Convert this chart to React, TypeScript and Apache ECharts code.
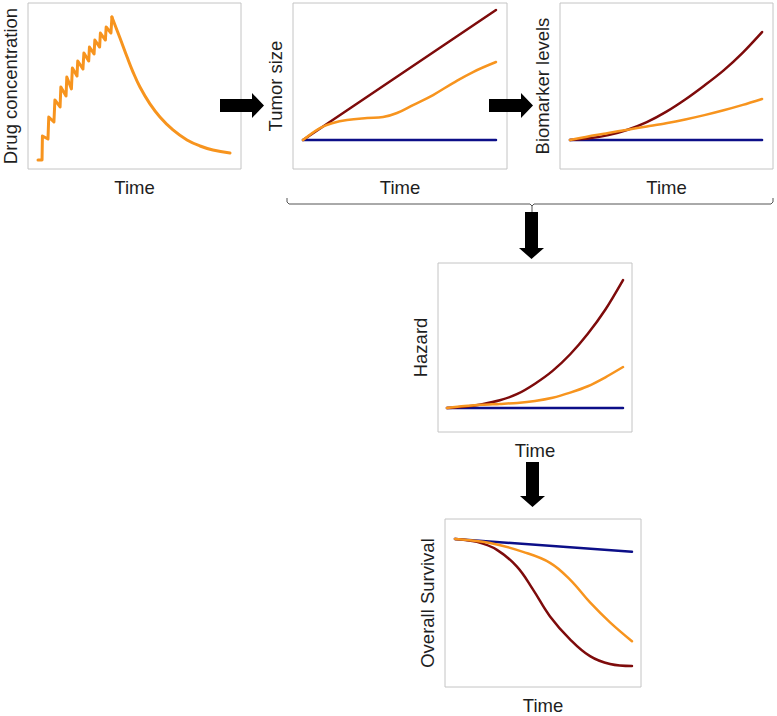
import React, { useEffect, useRef } from "react";
import * as echarts from "echarts";

const RED = "#7e0b0b";
const ORANGE = "#f7941e";
const BLUE = "#0c0f88";

// Panel 1: drug concentration (dosing phase + elimination phase)
const drugDoseTime = [0, 2.1, 2.3, 5.2, 5.6, 8.3, 8.8, 11.5, 11.9, 14.6, 15.0, 17.4, 17.9, 20.3, 20.7, 23.4, 23.9, 26.4, 26.8, 29.2, 29.6, 32.1, 32.5, 35.1, 35.5, 38.0, 38.5];
const drugDoseConc = [0, 0, 16.8, 14.7, 30.1, 26.6, 42.0, 37.1, 51.0, 44.8, 58.0, 49.7, 64.3, 58.7, 69.2, 63.6, 74.8, 69.2, 79.0, 74.1, 83.9, 79.0, 88.8, 83.9, 93.0, 88.8, 100];
const drugDecayTime = [38.5, 42.7, 46.4, 49.5, 53.1, 58.3, 63.5, 70.3, 77.6, 84.4, 91.1, 100];
const drugDecayConc = [100, 85.3, 72.0, 61.5, 51.0, 39.2, 30.1, 21.0, 14.0, 9.8, 7.0, 4.9];

// Panel 2: tumor size
const tumorLineTime = [0, 100];
const tumorRed = [0, 100];
const tumorBlue = [0, 0];
const tumorOrangeTime = [0, 8.8, 15.5, 22.8, 33.2, 41.5, 48.7, 57, 67.4, 77.7, 88.1, 100];
const tumorOrange = [0, 9.2, 13.1, 15.4, 16.9, 17.7, 20.8, 26.9, 34.6, 43.8, 52.3, 60];

// Panel 3: biomarker levels
const bioTime = [0, 10, 20, 30, 40, 50, 60, 70, 80, 90, 100];
const bioRed = [0, 1.5, 4.5, 9.5, 16.5, 26, 37.5, 50.5, 64.5, 81, 100];
const bioOrange = [0, 3.5, 6.5, 9.5, 12.5, 15.5, 19, 23, 27.5, 32.5, 38];
const bioBlue = [0, 0, 0, 0, 0, 0, 0, 0, 0, 0, 0];

// Panel 4: hazard
const hazTime = [0, 10, 20, 30, 40, 50, 60, 70, 80, 90, 100];
const hazRed = [0, 1, 3, 6, 11, 19, 29, 42, 58, 77, 100];
const hazOrange = [0, 1.5, 2.5, 3.2, 4, 5.5, 8, 12, 17, 24, 32];
const hazBlue = [0, 0, 0, 0, 0, 0, 0, 0, 0, 0, 0];

// Panel 5: overall survival (%)
const osRedTime = [0, 12.4, 23.7, 35, 44.1, 53.7, 65, 76.3, 87.6, 100];
const osRed = [100, 97.9, 92.4, 80.7, 64.8, 46.2, 30.3, 18.6, 13.1, 11.7];
const osOrangeTime = [0, 19.8, 38.4, 53.7, 65, 76.3, 87.6, 100];
const osOrange = [100, 97.2, 91, 83.4, 71.7, 55.9, 42.1, 29];
const osBlueTime = [0, 100];
const osBlue = [100, 91];

const zip = (a: number[], b: number[]) => a.map((v, i) => [v, b[i]]);

const FONT = { fontFamily: "Liberation Sans, Arial, sans-serif", fontSize: 18.5, color: "#1e1e1e" };

function rightArrow(x0: number, yc: number) {
  const L = 44, sh = 6.5, hh = 12.5, hl = 12;
  return {
    type: "polygon", z: 100,
    shape: { points: [[x0, yc - sh], [x0 + L - hl, yc - sh], [x0 + L - hl, yc - hh], [x0 + L, yc], [x0 + L - hl, yc + hh], [x0 + L - hl, yc + sh], [x0, yc + sh]] },
    style: { fill: "#000" },
  };
}
function downArrow(xc: number, y0: number, L: number) {
  const sh = 6.5, hh = 12.5, hl = 11;
  return {
    type: "polygon", z: 100,
    shape: { points: [[xc - sh, y0], [xc + sh, y0], [xc + sh, y0 + L - hl], [xc + hh, y0 + L - hl], [xc, y0 + L], [xc - hh, y0 + L - hl], [xc - sh, y0 + L - hl]] },
    style: { fill: "#000" },
  };
}

export default function App() {
  const ref = useRef<HTMLDivElement>(null);
  useEffect(() => {
    if (!ref.current) return;
    const chart = echarts.init(ref.current, null, { renderer: "svg" });
    const grids = [
      { left: 28, top: 3, width: 213, height: 166 },
      { left: 293, top: 3, width: 214, height: 166 },
      { left: 560, top: 3, width: 213, height: 166 },
      { left: 438, top: 263, width: 194, height: 169 },
      { left: 445, top: 519, width: 196, height: 169 },
    ].map((g) => ({ ...g, show: true, borderColor: "#c4c4c4", borderWidth: 1, backgroundColor: "#fff" }));

    const base = {
      type: "value",
      axisLine: { show: false },
      axisTick: { show: false },
      axisLabel: { show: false },
      splitLine: { show: false },
      nameLocation: "middle",
      nameTextStyle: FONT,
    };
    const xRanges = [[-5.21, 105.73], [-5.18, 105.7], [-5.2, 105.7], [-5.1, 105.1], [-5.65, 105.1]];
    const yRanges = [[-6.29, 109.79], [-22.3, 105.4], [-26.9, 126.9], [-18.75, 113.3], [-2.8, 113.8]];
    const yNames = ["Drug concentration", "Tumor size", "Biomarker levels", "Hazard", "Overall Survival"];

    const xAxis = xRanges.map((r, i) => ({ ...base, gridIndex: i, min: r[0], max: r[1], name: "Time", nameGap: 9 }));
    const yAxis = yRanges.map((r, i) => ({ ...base, gridIndex: i, min: r[0], max: r[1], name: yNames[i], nameRotate: 90, nameGap: 8 }));

    const line = (i: number, data: number[][], color: string, width: number, smooth: number | boolean) => ({
      type: "line", xAxisIndex: i, yAxisIndex: i, data, symbol: "none", smooth,
      lineStyle: { color, width, cap: "round", join: "round" }, silent: true,
    });

    const series = [
      line(0, zip(drugDoseTime, drugDoseConc), ORANGE, 3, false),
      line(0, zip(drugDecayTime, drugDecayConc), ORANGE, 3, 0.4),
      line(1, zip(tumorLineTime, tumorBlue), BLUE, 2.5, false),
      line(1, zip(tumorLineTime, tumorRed), RED, 2.5, false),
      line(1, zip(tumorOrangeTime, tumorOrange), ORANGE, 2.5, 0.4),
      line(2, zip(bioTime, bioBlue), BLUE, 2.5, false),
      line(2, zip(bioTime, bioRed), RED, 2.5, 0.3),
      line(2, zip(bioTime, bioOrange), ORANGE, 2.5, 0.3),
      line(3, zip(hazTime, hazBlue), BLUE, 2.5, false),
      line(3, zip(hazTime, hazRed), RED, 2.5, 0.3),
      line(3, zip(hazTime, hazOrange), ORANGE, 2.5, 0.3),
      line(4, zip(osBlueTime, osBlue), BLUE, 2.5, false),
      line(4, zip(osRedTime, osRed), RED, 2.5, 0.4),
      line(4, zip(osOrangeTime, osOrange), ORANGE, 2.5, 0.4),
    ];

    const braceStyle = { stroke: "#555", lineWidth: 1, fill: "none" };
    const graphic = [
      rightArrow(220, 105.5),
      rightArrow(489, 105.5),
      { type: "polyline", z: 100, shape: { points: [[287, 198], [287, 202], [289, 204], [530, 204], [532, 206], [532, 213]] }, style: braceStyle },
      { type: "polyline", z: 100, shape: { points: [[532, 206], [534, 204], [771, 204], [773, 202], [773, 198]] }, style: braceStyle },
      downArrow(531.5, 212, 47),
      downArrow(532.5, 462, 45),
    ];

    chart.setOption({ animation: false, backgroundColor: "#fff", grid: grids, xAxis, yAxis, series, graphic });
    return () => chart.dispose();
  }, []);
  return <div ref={ref} style={{ position: "fixed", left: 0, top: 0, width: 777, height: 716 }} />;
}
